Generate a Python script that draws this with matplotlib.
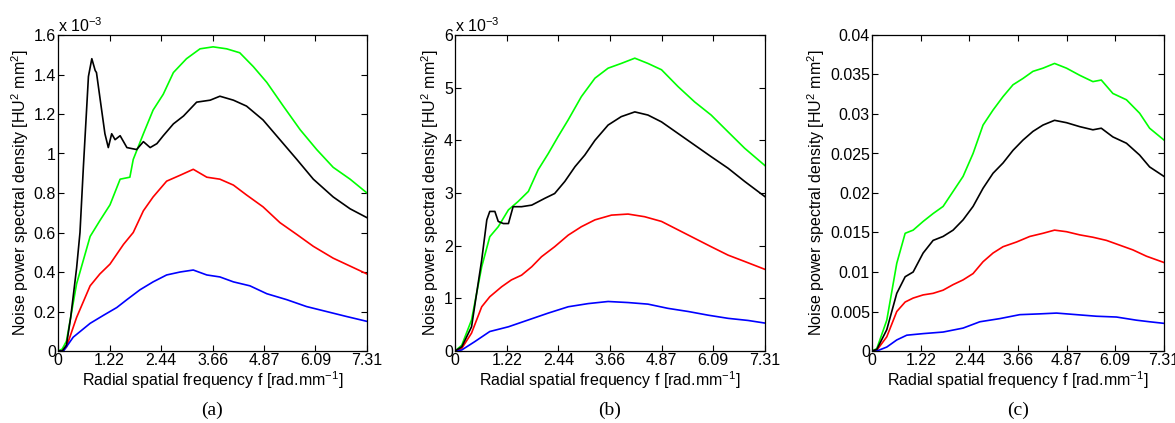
import matplotlib
matplotlib.use("Agg")
import matplotlib.pyplot as plt
from matplotlib.ticker import FuncFormatter

plt.rcParams['font.family'] = ['Liberation Sans', 'DejaVu Sans']
plt.rcParams['mathtext.fontset'] = 'custom'
plt.rcParams['mathtext.rm'] = 'Liberation Sans'

xticks = [0, 1.22, 2.44, 3.66, 4.87, 6.09, 7.31]
xtick_labels = ["0", "1.22", "2.44", "3.66", "4.87", "6.09", "7.31"]

# ---- Panel (a), values in units of 1e-3 ----
a_black_x = [0, 0.1, 0.2, 0.3, 0.44, 0.52, 0.6, 0.72, 0.8, 0.88, 0.91, 1.0, 1.11, 1.19, 1.27, 1.35, 1.47,
             1.63, 1.86, 2.02, 2.18, 2.34, 2.49, 2.73, 2.97, 3.28, 3.6, 3.83, 4.15, 4.46, 4.85,
             5.25, 5.65, 6.04, 6.51, 6.91, 7.31]
a_black_y = [0, 0.0, 0.03, 0.17, 0.42, 0.6, 0.93, 1.39, 1.48, 1.42, 1.41, 1.27, 1.1, 1.03, 1.10, 1.07, 1.09,
             1.03, 1.02, 1.06, 1.03, 1.05, 1.09, 1.15, 1.19, 1.26, 1.27, 1.29, 1.27, 1.24, 1.17,
             1.07, 0.97, 0.87, 0.78, 0.72, 0.675]
a_green_x = [0, 0.1, 0.2, 0.44, 0.76, 0.99, 1.23, 1.47, 1.7, 1.78, 2.02, 2.25, 2.49, 2.73, 3.04, 3.36,
             3.67, 3.99, 4.3, 4.62, 4.94, 5.33, 5.73, 6.12, 6.51, 6.91, 7.31]
a_green_y = [0, 0.01, 0.05, 0.34, 0.58, 0.66, 0.74, 0.87, 0.88, 0.97, 1.1, 1.22, 1.3, 1.41, 1.48, 1.53,
             1.54, 1.53, 1.51, 1.44, 1.36, 1.24, 1.12, 1.02, 0.93, 0.87, 0.80]
a_red_x = [0, 0.1, 0.2, 0.44, 0.76, 0.99, 1.23, 1.55, 1.78, 2.02, 2.25, 2.57, 2.89, 3.2, 3.52, 3.83,
           4.15, 4.46, 4.85, 5.25, 5.65, 6.04, 6.51, 6.91, 7.31]
a_red_y = [0, 0.0, 0.02, 0.17, 0.33, 0.39, 0.44, 0.54, 0.6, 0.71, 0.78, 0.86, 0.89, 0.92, 0.88, 0.87,
           0.84, 0.79, 0.73, 0.65, 0.59, 0.53, 0.47, 0.43, 0.39]
a_blue_x = [0, 0.13, 0.36, 0.76, 1.07, 1.39, 1.63, 1.94, 2.25, 2.57, 2.89, 3.2, 3.52, 3.83, 4.15, 4.54,
            4.94, 5.41, 5.88, 6.35, 6.82, 7.31]
a_blue_y = [0, 0.0, 0.07, 0.14, 0.18, 0.22, 0.26, 0.31, 0.35, 0.385, 0.40, 0.41, 0.385, 0.375, 0.35, 0.33,
            0.29, 0.26, 0.225, 0.2, 0.175, 0.15]

# ---- Panel (b), values in units of 1e-3 ----
b_black_x = [0, 0.16, 0.39, 0.63, 0.75, 0.82, 0.94, 1.02, 1.14, 1.26, 1.37, 1.57, 1.81, 2.12, 2.35, 2.59,
             2.83, 3.06, 3.3, 3.61, 3.92, 4.24, 4.55, 4.87, 5.26, 5.65, 6.04, 6.44, 6.83, 7.31]
b_black_y = [0, 0.08, 0.46, 1.73, 2.49, 2.65, 2.65, 2.46, 2.42, 2.42, 2.74, 2.74, 2.77, 2.9, 2.99, 3.22,
             3.5, 3.72, 4.0, 4.29, 4.45, 4.54, 4.48, 4.35, 4.13, 3.91, 3.69, 3.47, 3.22, 2.93]
b_green_x = [0, 0.16, 0.39, 0.63, 0.82, 1.02, 1.26, 1.49, 1.73, 1.96, 2.2, 2.43, 2.67, 2.98, 3.3, 3.61,
             3.92, 4.24, 4.55, 4.87, 5.26, 5.65, 6.04, 6.44, 6.83, 7.31]
b_green_y = [0, 0.11, 0.59, 1.6, 2.17, 2.36, 2.68, 2.84, 3.03, 3.44, 3.75, 4.07, 4.39, 4.83, 5.18, 5.37,
             5.46, 5.56, 5.46, 5.34, 5.02, 4.73, 4.48, 4.16, 3.85, 3.52]
b_red_x = [0, 0.16, 0.39, 0.63, 0.82, 1.1, 1.33, 1.57, 1.81, 2.04, 2.35, 2.67, 2.98, 3.3, 3.69, 4.08,
           4.47, 4.87, 5.26, 5.65, 6.04, 6.44, 6.83, 7.31]
b_red_y = [0, 0.05, 0.34, 0.84, 1.03, 1.22, 1.35, 1.44, 1.6, 1.79, 1.98, 2.2, 2.36, 2.49, 2.58, 2.6,
           2.55, 2.46, 2.3, 2.14, 1.98, 1.82, 1.7, 1.55]
b_blue_x = [0, 0.16, 0.47, 0.82, 1.26, 1.73, 2.2, 2.67, 3.14, 3.61, 4.08, 4.55, 5.02, 5.5, 5.97, 6.44,
            6.91, 7.31]
b_blue_y = [0, 0.02, 0.18, 0.37, 0.46, 0.59, 0.72, 0.84, 0.9, 0.94, 0.92, 0.89, 0.81, 0.75, 0.68, 0.62,
            0.58, 0.53]

# ---- Panel (c) ----
c_green_x = [0, 0.12, 0.37, 0.62, 0.83, 1.03, 1.28, 1.53, 1.78, 2.03, 2.28, 2.53, 2.78, 3.03, 3.28, 3.53,
             3.78, 4.03, 4.28, 4.57, 4.87, 5.2, 5.53, 5.74, 6.03, 6.37, 6.7, 6.95, 7.31]
c_green_y = [0, 0.0003, 0.0039, 0.0111, 0.0149, 0.0153, 0.0164, 0.0174, 0.0183, 0.0202, 0.0221, 0.025,
             0.0286, 0.0305, 0.0322, 0.0337, 0.0345, 0.0354, 0.0358, 0.0364, 0.0358, 0.0349, 0.0341,
             0.0343, 0.0326, 0.0318, 0.0301, 0.0282, 0.0267]
c_black_x = [0, 0.12, 0.37, 0.62, 0.83, 1.03, 1.28, 1.53, 1.78, 2.03, 2.28, 2.53, 2.78, 3.03, 3.28, 3.53,
             3.78, 4.03, 4.28, 4.57, 4.87, 5.2, 5.53, 5.74, 6.03, 6.37, 6.7, 6.95, 7.31]
c_black_y = [0, 0.0002, 0.0027, 0.0073, 0.0094, 0.0100, 0.0124, 0.0140, 0.0145, 0.0153, 0.0166, 0.0183,
             0.0206, 0.0225, 0.0238, 0.0254, 0.0267, 0.0278, 0.0286, 0.0292, 0.0289, 0.0284, 0.0280,
             0.0282, 0.0271, 0.0263, 0.0248, 0.0233, 0.0221]
c_red_x = [0, 0.12, 0.37, 0.62, 0.83, 1.03, 1.28, 1.53, 1.78, 2.03, 2.28, 2.53, 2.78, 3.03, 3.28, 3.62,
           3.95, 4.28, 4.57, 4.87, 5.2, 5.53, 5.87, 6.2, 6.53, 6.87, 7.31]
c_red_y = [0, 0.0001, 0.0018, 0.0050, 0.0062, 0.0067, 0.0071, 0.0073, 0.0077, 0.0084, 0.0090, 0.0098,
           0.0113, 0.0124, 0.0132, 0.0138, 0.0145, 0.0149, 0.0153, 0.0151, 0.0147, 0.0144, 0.0140,
           0.0134, 0.0128, 0.0120, 0.0112]
c_blue_x = [0, 0.12, 0.37, 0.62, 0.87, 1.28, 1.78, 2.28, 2.7, 3.2, 3.7, 4.2, 4.62, 5.12, 5.62, 6.12,
            6.62, 6.95, 7.31]
c_blue_y = [0, 0.0, 0.0005, 0.0014, 0.0020, 0.0022, 0.0024, 0.0029, 0.0037, 0.0041, 0.0046, 0.0047,
            0.0048, 0.0046, 0.0044, 0.0043, 0.0039, 0.0037, 0.0035]

panels = [
    dict(lines=[(a_green_x, a_green_y, '#00ff00'), (a_red_x, a_red_y, '#ff0000'),
                (a_blue_x, a_blue_y, '#0000ff'), (a_black_x, a_black_y, 'black')],
         ylim=1.6, yticks=[0, 0.2, 0.4, 0.6, 0.8, 1.0, 1.2, 1.4, 1.6], exp=True,
         pos=[58, 367], caption='(a)'),
    dict(lines=[(b_green_x, b_green_y, '#00ff00'), (b_red_x, b_red_y, '#ff0000'),
                (b_blue_x, b_blue_y, '#0000ff'), (b_black_x, b_black_y, 'black')],
         ylim=6, yticks=[0, 1, 2, 3, 4, 5, 6], exp=True,
         pos=[455, 765], caption='(b)'),
    dict(lines=[(c_green_x, c_green_y, '#00ff00'), (c_red_x, c_red_y, '#ff0000'),
                (c_blue_x, c_blue_y, '#0000ff'), (c_black_x, c_black_y, 'black')],
         ylim=0.04, yticks=[0, 0.005, 0.01, 0.015, 0.02, 0.025, 0.03, 0.035, 0.04], exp=False,
         pos=[872, 1164], caption='(c)'),
]

W, H = 1175, 423
fig = plt.figure(figsize=(W / 100, H / 100), dpi=100)
top_px, bot_px = 35, 351
fs = 11.5
for p in panels:
    l, r = p['pos']
    ax = fig.add_axes([l / W, 1 - bot_px / H, (r - l) / W, (bot_px - top_px) / H])
    for x, y, c in p['lines']:
        ax.plot(x, y, color=c, lw=1.2)
    ax.set_xlim(0, 7.31)
    ax.set_ylim(0, p['ylim'])
    ax.set_xticks(xticks)
    ax.set_xticklabels(xtick_labels)
    ax.set_yticks(p['yticks'])
    ax.yaxis.set_major_formatter(FuncFormatter(lambda v, pos: '%g' % v))
    ax.tick_params(direction='in', top=True, right=True, length=4, width=0.8,
                   labelsize=fs, pad=1.5)
    for s in ax.spines.values():
        s.set_linewidth(0.9)
    ax.set_xlabel('Radial spatial frequency f [rad.mm$^{-1}$]', fontsize=fs, labelpad=1)
    ax.set_ylabel('Noise power spectral density [HU$^2$ mm$^2$]', fontsize=fs, labelpad=2)
    if p['exp']:
        ax.text(0.0, 1.0, 'x 10$^{-3}$', transform=ax.transAxes, ha='left', va='bottom', fontsize=fs)
    ax.text(0.5, -0.187, p['caption'], transform=ax.transAxes, ha='center', va='center',
            fontsize=14, family='Liberation Serif')

fig.savefig('out.png', dpi=100)
